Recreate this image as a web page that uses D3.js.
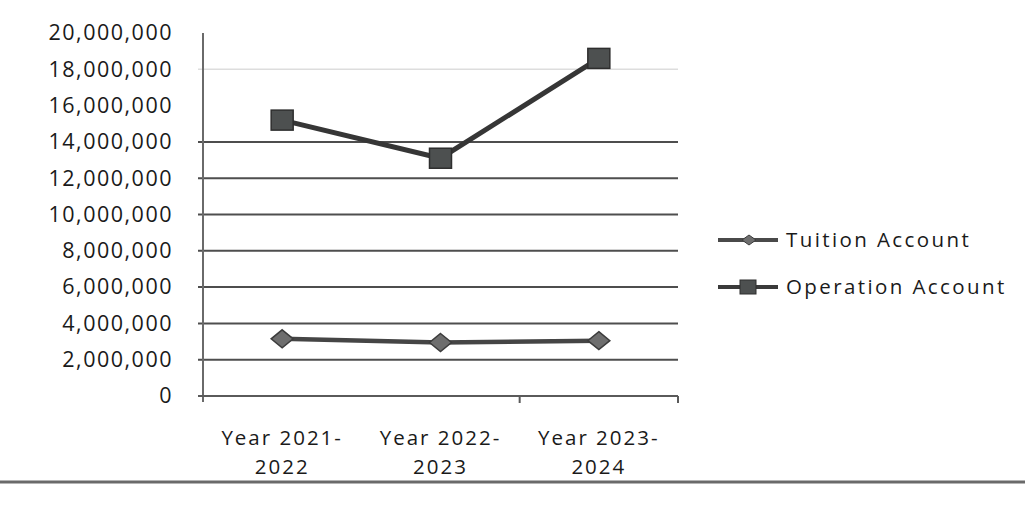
<!DOCTYPE html>
<html>
<head>
<meta charset="utf-8">
<script src="https://cdn.jsdelivr.net/npm/d3@7"></script>
<style>
  body { margin: 0; background: #fff; }
  text { font-family: "Open Sans", sans-serif; fill: #1a1a1a; }
</style>
</head>
<body>
<svg id="chart" width="1025" height="509"></svg>
<script>
// data
const categories = [["Year 2021-", "2022"], ["Year 2022-", "2023"], ["Year 2023-", "2024"]];
const tuitionValues = [3150000, 2950000, 3050000];
const operationValues = [15200000, 13100000, 18600000];
const yTicks = [0, 2000000, 4000000, 6000000, 8000000, 10000000, 12000000, 14000000, 16000000, 18000000, 20000000];
const seriesNames = ["Tuition Account", "Operation Account"];

const svg = d3.select("#chart");
svg.append("rect").attr("width", 1025).attr("height", 509).attr("fill", "#fff");

const plotLeft = 203, plotRight = 678, plotTop = 33, plotBottom = 396;

const xBand = d3.scaleBand().domain(d3.range(categories.length)).range([plotLeft, plotRight]);
const x = (i) => xBand(i) + xBand.bandwidth() / 2;
const y = d3.scaleLinear().domain([0, 20000000]).range([plotBottom, plotTop]);

// gridlines (the scan lost 16M and 20M, 18M is faint)
svg.append("g")
  .selectAll("line")
  .data(yTicks.filter((d) => d > 0 && d !== 16000000 && d !== 20000000))
  .enter()
  .append("line")
  .attr("x1", plotLeft - 5)
  .attr("x2", plotRight)
  .attr("y1", (d) => y(d))
  .attr("y2", (d) => y(d))
  .attr("stroke", (d) => (d === 18000000 ? "#ddd" : "#4e4e4e"))
  .attr("stroke-width", (d) => (d === 18000000 ? 1.5 : 2));

// y axis
const yAxis = d3.axisLeft(y).tickValues(yTicks).tickFormat(d3.format(",")).tickSize(0).tickPadding(30);
const yg = svg.append("g").attr("transform", `translate(${plotLeft},0)`).call(yAxis);
yg.select(".domain").remove();
yg.selectAll("text")
  .attr("font-size", 21.5)
  .attr("letter-spacing", "1.5px")
  .style("font-family", "Open Sans, sans-serif")
  .attr("fill", "#1a1a1a");
svg.append("line")
  .attr("x1", plotLeft).attr("x2", plotLeft)
  .attr("y1", plotTop).attr("y2", plotBottom + 6)
  .attr("stroke", "#6a6a6a").attr("stroke-width", 2);

// x axis
svg.append("line")
  .attr("x1", plotLeft - 5).attr("x2", plotRight)
  .attr("y1", plotBottom).attr("y2", plotBottom)
  .attr("stroke", "#5a5a5a").attr("stroke-width", 2);
svg.append("g")
  .selectAll("line")
  .data(d3.range(2, categories.length + 1))
  .enter()
  .append("line")
  .attr("x1", (i) => (i < categories.length ? xBand(i) : plotRight))
  .attr("x2", (i) => (i < categories.length ? xBand(i) : plotRight))
  .attr("y1", plotBottom)
  .attr("y2", plotBottom + 7)
  .attr("stroke", "#5a5a5a")
  .attr("stroke-width", 2);

const xl = svg.append("g")
  .selectAll("text")
  .data(categories)
  .enter()
  .append("text")
  .attr("x", (d, i) => x(i))
  .attr("y", 445)
  .attr("text-anchor", "middle")
  .attr("font-size", 20.5)
  .attr("letter-spacing", "2px");
xl.append("tspan").attr("x", (d, i) => x(i)).attr("dy", 0).text((d) => d[0]);
xl.append("tspan").attr("x", (d, i) => x(i)).attr("dy", 29).text((d) => d[1]);

// lines
const line = d3.line().x((d, i) => x(i)).y((d) => y(d));
svg.append("path")
  .datum(tuitionValues)
  .attr("d", line)
  .attr("fill", "none")
  .attr("stroke", "#454545")
  .attr("stroke-width", 4.5);
svg.append("path")
  .datum(operationValues)
  .attr("d", line)
  .attr("fill", "none")
  .attr("stroke", "#363636")
  .attr("stroke-width", 5);

// markers
const diamond = (cx, cy, w, h) => `M${cx},${cy - h}L${cx + w},${cy}L${cx},${cy + h}L${cx - w},${cy}Z`;
svg.append("g")
  .selectAll("path")
  .data(tuitionValues)
  .enter()
  .append("path")
  .attr("d", (d, i) => diamond(x(i), y(d), 11, 9))
  .attr("fill", "#6e6e6e")
  .attr("stroke", "#3c3c3c")
  .attr("stroke-width", 1.5);
svg.append("g")
  .selectAll("rect")
  .data(operationValues)
  .enter()
  .append("rect")
  .attr("x", (d, i) => x(i) - 11)
  .attr("y", (d) => y(d) - 10)
  .attr("width", 22)
  .attr("height", 20)
  .attr("fill", "#4d5050")
  .attr("stroke", "#2e2e2e")
  .attr("stroke-width", 1.5);

// legend
const legend = svg.append("g")
  .selectAll("g")
  .data(seriesNames)
  .enter()
  .append("g")
  .attr("transform", (d, i) => `translate(718,${240 + i * 47})`);
legend.append("line")
  .attr("x1", 0).attr("x2", 60)
  .attr("stroke", (d, i) => (i === 0 ? "#4a4a4a" : "#3a3a3a"))
  .attr("stroke-width", 4);
legend.filter((d, i) => i === 0)
  .append("path")
  .attr("d", diamond(31, 0, 7, 5))
  .attr("fill", "#6e6e6e")
  .attr("stroke", "#3c3c3c");
legend.filter((d, i) => i === 1)
  .append("rect")
  .attr("x", 22).attr("y", -7)
  .attr("width", 16).attr("height", 14)
  .attr("fill", "#4d5050")
  .attr("stroke", "#2e2e2e");
legend.append("text")
  .attr("x", 68)
  .attr("y", 7)
  .attr("font-size", 20.5)
  .attr("letter-spacing", "2.4px")
  .text((d) => d);

// scanned page rule at the bottom
svg.append("line")
  .attr("x1", 0).attr("x2", 1025)
  .attr("y1", 482).attr("y2", 482)
  .attr("stroke", "#6a6a6a").attr("stroke-width", 3);
</script>
</body>
</html>
